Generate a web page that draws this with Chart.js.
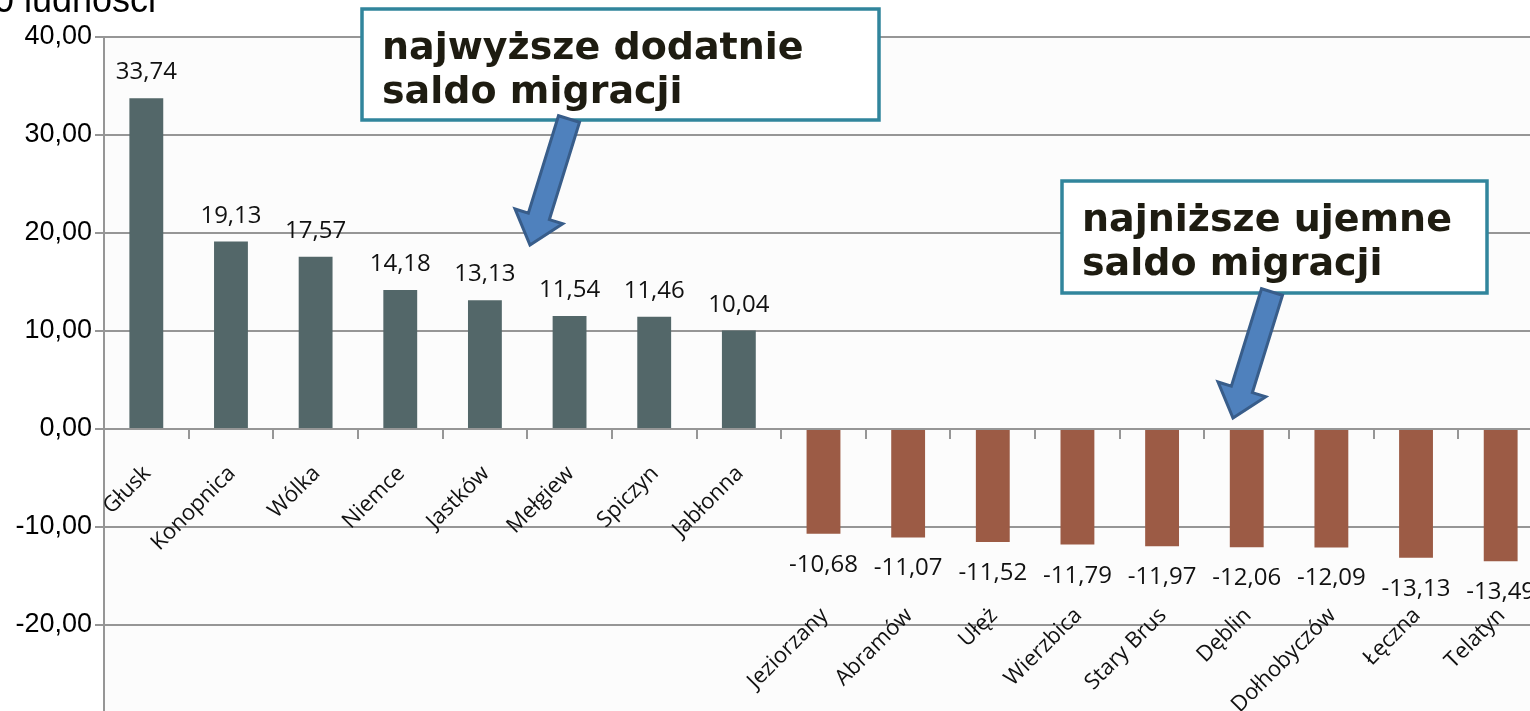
<!DOCTYPE html>
<html>
<head>
<meta charset="utf-8">
<script src="https://cdn.jsdelivr.net/npm/chart.js@4"></script>
<style>
  html, body { margin: 0; padding: 0; background: #ffffff; overflow: hidden; }
  #wrap { position: relative; width: 1545px; height: 744px; }
</style>
</head>
<body>
<div id="wrap"><canvas id="c" width="1545" height="744"></canvas></div>
<script>
// ---- data ----
const categories = ["Głusk", "Konopnica", "Wólka", "Niemce", "Jastków", "Mełgiew", "Spiczyn", "Jabłonna",
  "Jeziorzany", "Abramów", "Ułęż", "Wierzbica", "Stary Brus", "Dęblin", "Dołhobyczów", "Łęczna", "Telatyn"];
const values = [33.74, 19.13, 17.57, 14.18, 13.13, 11.54, 11.46, 10.04,
  -10.68, -11.07, -11.52, -11.79, -11.97, -12.06, -12.09, -13.13, -13.49];
const yMin = -30, yMax = 40, yStep = 10;
const axisTitle = "Saldo migracji na 1000 ludności";
const noteHigh = ["najwyższe dodatnie", "saldo migracji"];
const noteLow = ["najniższe ujemne", "saldo migracji"];

// ---- styles ----
const posColor = "#536769";
const negColor = "#9C5B45";
const gridColor = "#969696";
const fmt = v => v.toFixed(2).replace(".", ",");

function drawArrow(ctx, tx, ty, hx, hy) {
  const dx = hx - tx, dy = hy - ty, len = Math.hypot(dx, dy);
  const ux = dx / len, uy = dy / len, px = -uy, py = ux;
  const sw = 11, hw = 25, hl = 30;
  const bx = hx - ux * hl, by = hy - uy * hl;
  ctx.beginPath();
  ctx.moveTo(tx + px * sw, ty + py * sw);
  ctx.lineTo(bx + px * sw, by + py * sw);
  ctx.lineTo(bx + px * hw, by + py * hw);
  ctx.lineTo(hx, hy);
  ctx.lineTo(bx - px * hw, by - py * hw);
  ctx.lineTo(bx - px * sw, by - py * sw);
  ctx.lineTo(tx - px * sw, ty - py * sw);
  ctx.closePath();
  ctx.fillStyle = "#4F81BD";
  ctx.fill();
  ctx.lineWidth = 3;
  ctx.lineJoin = "miter";
  ctx.strokeStyle = "#385D8A";
  ctx.stroke();
}

function drawNote(ctx, x, y, w, h, lines) {
  ctx.fillStyle = "#ffffff";
  ctx.fillRect(x, y, w, h);
  ctx.lineWidth = 3.5;
  ctx.strokeStyle = "#31859C";
  ctx.strokeRect(x, y, w, h);
  ctx.fillStyle = "#1E1C11";
  ctx.font = 'bold 38px "DejaVu Sans"';
  ctx.textAlign = "left";
  ctx.textBaseline = "alphabetic";
  ctx.fillText(lines[0], x + 20, y + 50);
  ctx.fillText(lines[1], x + 20, y + 94);
}

const customDraw = {
  id: "customDraw",
  beforeDraw(chart) {
    const { ctx, chartArea: a } = chart;
    ctx.save();
    ctx.fillStyle = "#fcfcfc";
    ctx.fillRect(a.left, a.top, a.right - a.left, a.bottom - a.top);
    ctx.restore();
  },
  afterDatasetsDraw(chart) {
    const ctx = chart.ctx;
    const meta = chart.getDatasetMeta(0);
    const ys = chart.scales.y;
    ctx.save();
    ctx.fillStyle = "#111111";
    meta.data.forEach((bar, i) => {
      const v = values[i];
      ctx.font = '24px "Open Sans"';
      ctx.textAlign = "center";
      ctx.textBaseline = "alphabetic";
      ctx.fillText(fmt(v), bar.x, v >= 0 ? bar.y - 19 : bar.y + 38);
      const ay = v >= 0 ? ys.getPixelForValue(0) + 41 : ys.getPixelForValue(-20) - 13;
      ctx.save();
      ctx.translate(bar.x + 1, ay);
      ctx.rotate(-Math.PI / 4);
      ctx.font = '22px "Open Sans"';
      ctx.textAlign = "right";
      ctx.textBaseline = "middle";
      ctx.fillText(categories[i], 0, 0);
      ctx.restore();
    });
    ctx.restore();
  },
  afterDraw(chart) {
    const ctx = chart.ctx;
    ctx.save();
    // clipped axis title at top-left
    ctx.fillStyle = "#000000";
    ctx.font = '36px "Liberation Sans", Arial';
    ctx.textAlign = "right";
    ctx.textBaseline = "alphabetic";
    ctx.fillText(axisTitle, 156, 12);
    // notes and arrows
    drawNote(ctx, 362, 9, 517, 111, noteHigh);
    drawArrow(ctx, 569, 119, 530, 245);
    drawNote(ctx, 1062, 181, 425, 112, noteLow);
    drawArrow(ctx, 1272, 292, 1233, 418);
    ctx.restore();
  }
};

new Chart(document.getElementById("c"), {
  type: "bar",
  data: {
    labels: categories,
    datasets: [{
      data: values,
      backgroundColor: values.map(v => v >= 0 ? posColor : negColor),
      borderWidth: 0,
      barPercentage: 0.4,
      categoryPercentage: 1.0
    }]
  },
  options: {
    responsive: false,
    animation: false,
    layout: { padding: { top: 37, bottom: 21, right: 2, left: 0 } },
    plugins: { legend: { display: false }, tooltip: { enabled: false }, title: { display: false } },
    scales: {
      x: {
        position: { y: 0 },
        afterFit(scale) { scale.height = 0; },
        grid: { display: true, drawOnChartArea: false, drawTicks: true, tickLength: 9, color: gridColor, lineWidth: 2, offset: true },
        border: { display: true, color: gridColor, width: 2 },
        ticks: { display: false }
      },
      y: {
        min: yMin, max: yMax,
        afterFit(scale) { scale.width = 104; },
        ticks: {
          stepSize: yStep,
          padding: 3,
          color: "#000000",
          font: { family: '"Liberation Sans", Arial', size: 27 },
          callback: v => fmt(v)
        },
        grid: { color: gridColor, lineWidth: 2, tickLength: 9, drawTicks: true },
        border: { display: true, color: gridColor, width: 2 }
      }
    }
  },
  plugins: [customDraw]
});
</script>
</body>
</html>
